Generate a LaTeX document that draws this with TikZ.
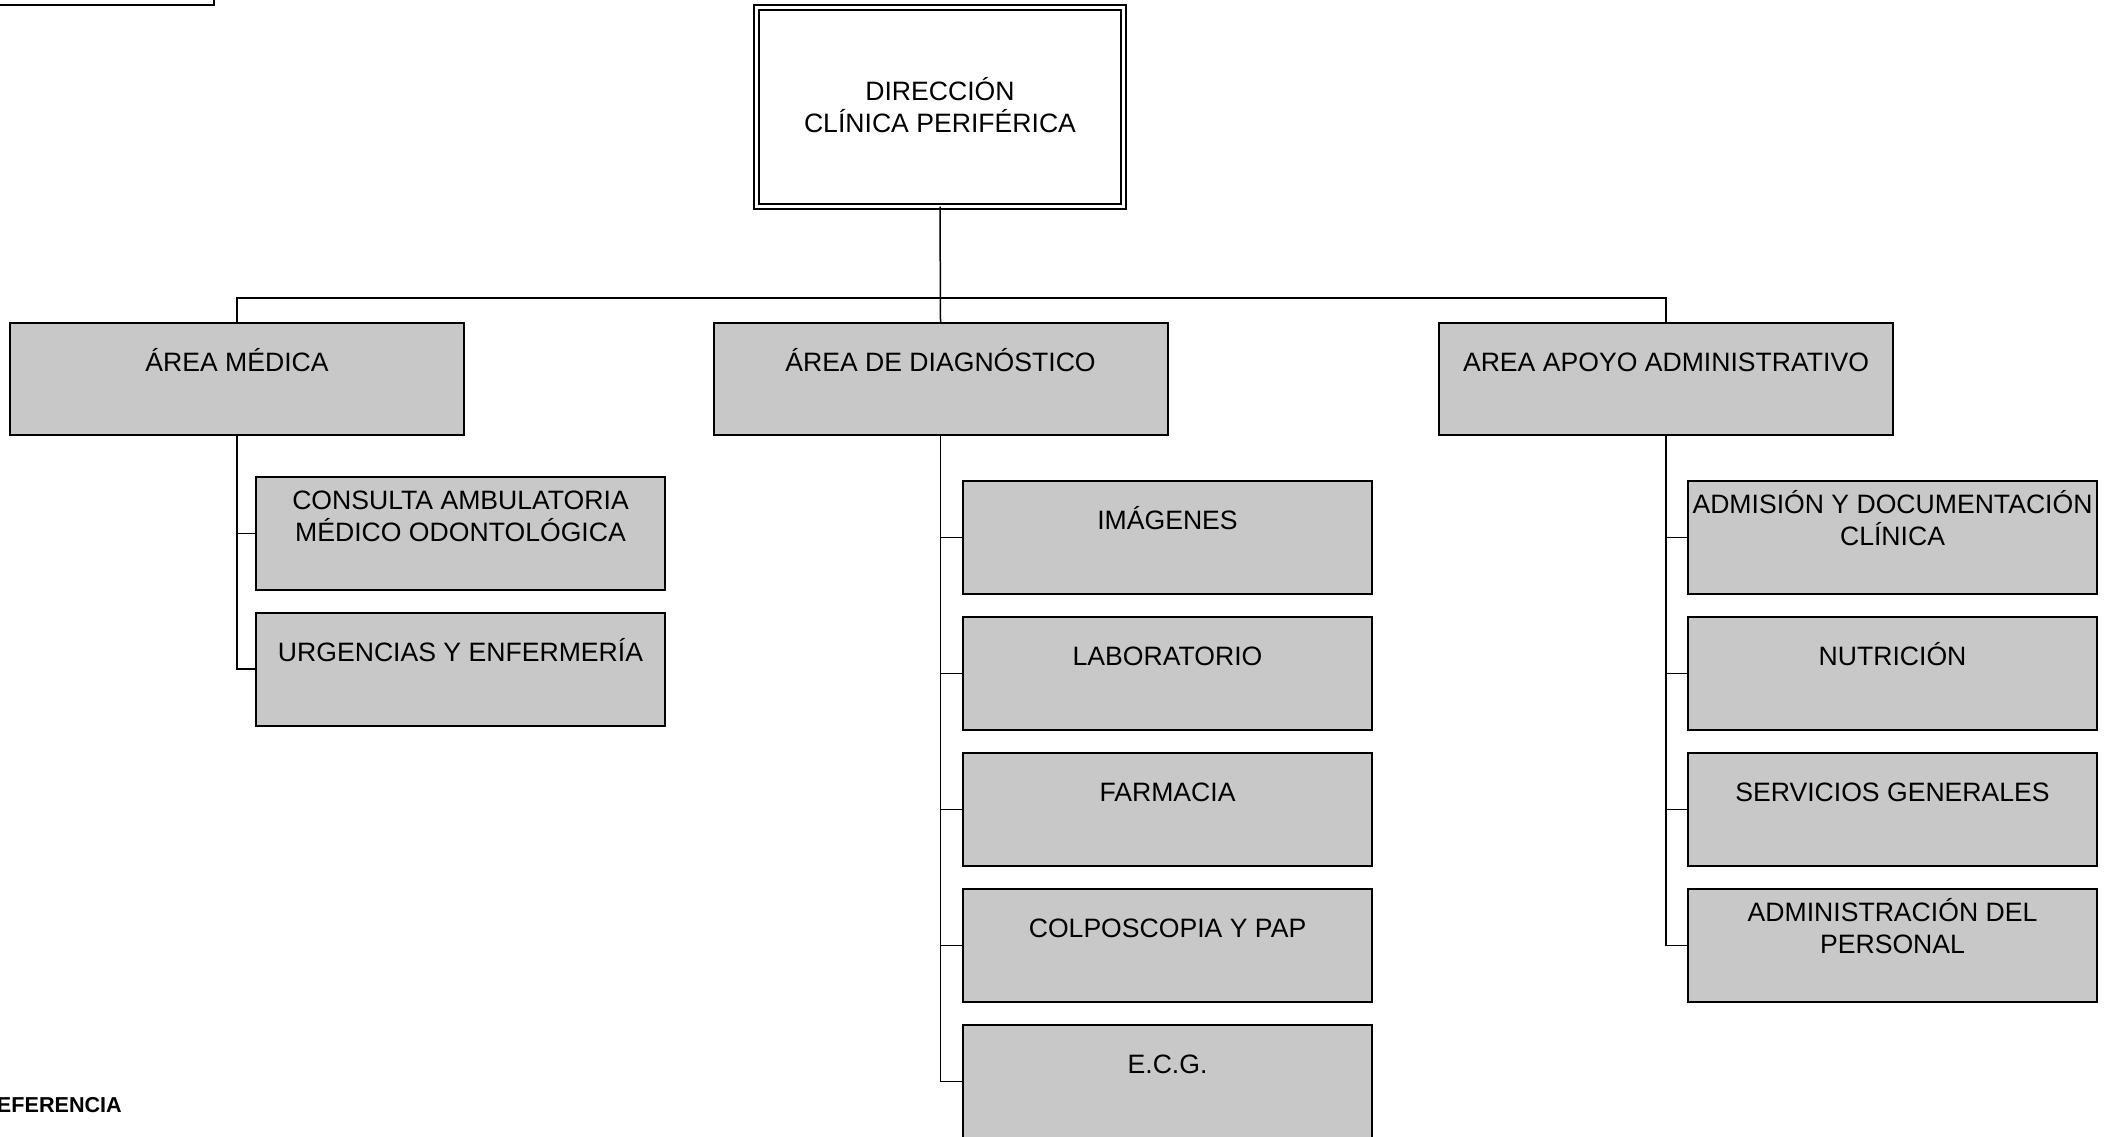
\documentclass[tikz,border=0pt]{standalone}
\usepackage{fontspec}
\setmainfont{Liberation Sans}
\definecolor{boxgray}{RGB}{200,200,200}
\newcommand\mystrut{\rule[-3.5pt]{0pt}{16pt}}
\begin{document}
\begin{tikzpicture}[x=0.5pt,y=-0.5pt,
  txt/.style={font=\fontsize{13.3}{16}\selectfont},
  box/.style={draw=black, line width=1pt, fill=boxgray, minimum width=204.5pt, minimum height=56.5pt, inner sep=0pt, outer sep=0pt},
  areabox/.style={box, minimum width=227pt, minimum height=56pt},
  topbox/.style={txt, align=center, draw=black, line width=0.9pt, double=white, double distance=1.6pt, minimum width=183.5pt, minimum height=99.5pt, inner sep=0pt, outer sep=0pt},
  lbl/.style={txt, align=center, inner sep=0pt},
  link/.style={draw=black, line width=0.75pt}
]
\useasboundingbox (0,0) rectangle (2112,1136);
\clip (0,0) rectangle (2112,1136);

% partial box at top left
\draw[line width=1pt] (-10,-10) rectangle (214,5);

% top
\node[topbox] (dir) at (940,107) {\mystrut DIRECCIÓN\\\mystrut CLÍNICA PERIFÉRICA};

% areas
\node[areabox] (med) at (237,379) {};
\node[areabox] (diag) at (940.5,379) {};
\node[areabox] (apo) at (1666,379) {};
\node[lbl] (medT) at ([yshift=-19.8pt]med.north) {\mystrut ÁREA MÉDICA};
\node[lbl] (diagT) at ([yshift=-19.8pt]diag.north) {\mystrut ÁREA DE DIAGNÓSTICO};
\node[lbl] (apoT) at ([yshift=-19.8pt]apo.north) {\mystrut AREA APOYO ADMINISTRATIVO};

% left children
\node[box] (m1) at (460.5,533.5) {};
\node[box] (m2) at (460.5,669) {};
\node[lbl] (m1T) at ([yshift=-19.8pt]m1.north) {\mystrut CONSULTA AMBULATORIA\\\mystrut MÉDICO ODONTOLÓGICA};
\node[lbl] (m2T) at ([yshift=-19.8pt]m2.north) {\mystrut URGENCIAS Y ENFERMERÍA};

% middle children
\node[box] (d1) at (1167.5,537.5) {};
\node[box] (d2) at (1167.5,673.5) {};
\node[box] (d3) at (1167.5,809.5) {};
\node[box] (d4) at (1167.5,945.5) {};
\node[box] (d5) at (1167.5,1081.5) {};
\node[lbl] (d1T) at ([yshift=-19.8pt]d1.north) {\mystrut IMÁGENES};
\node[lbl] (d2T) at ([yshift=-19.8pt]d2.north) {\mystrut LABORATORIO};
\node[lbl] (d3T) at ([yshift=-19.8pt]d3.north) {\mystrut FARMACIA};
\node[lbl] (d4T) at ([yshift=-19.8pt]d4.north) {\mystrut COLPOSCOPIA Y PAP};
\node[lbl] (d5T) at ([yshift=-19.8pt]d5.north) {\mystrut E.C.G.};

% right children
\node[box] (a1) at (1892.5,537.5) {};
\node[box] (a2) at (1892.5,673.5) {};
\node[box] (a3) at (1892.5,809.5) {};
\node[box] (a4) at (1892.5,945.5) {};
\node[lbl] (a1T) at ([yshift=-19.8pt]a1.north) {\mystrut ADMISIÓN Y DOCUMENTACIÓN\\\mystrut CLÍNICA};
\node[lbl] (a2T) at ([yshift=-19.8pt]a2.north) {\mystrut NUTRICIÓN};
\node[lbl] (a3T) at ([yshift=-19.8pt]a3.north) {\mystrut SERVICIOS GENERALES};
\node[lbl] (a4T) at ([yshift=-19.8pt]a4.north) {\mystrut ADMINISTRACIÓN DEL\\\mystrut PERSONAL};

% connectors
\coordinate (busL) at (237,298);
\coordinate (busR) at (1666,298);
\draw[link] (dir.south) -- (diag.north);
\draw[link] (med.north) -- (busL) -- (busR) -- (apo.north);
\foreach \c in {m1,m2} \draw[link] (med.south) |- (\c.west);
\foreach \c in {d1,d2,d3,d4,d5} \draw[link] (diag.south) |- (\c.west);
\foreach \c in {a1,a2,a3,a4} \draw[link] (apo.south) |- (\c.west);

% legend fragment (cut by the picture's edge, as in the reference)
\node[font=\fontsize{10.8}{13}\selectfont\bfseries, anchor=base west, inner sep=0pt] (ref) at (-19,1112) {REFERENCIA};
\end{tikzpicture}
\end{document}
